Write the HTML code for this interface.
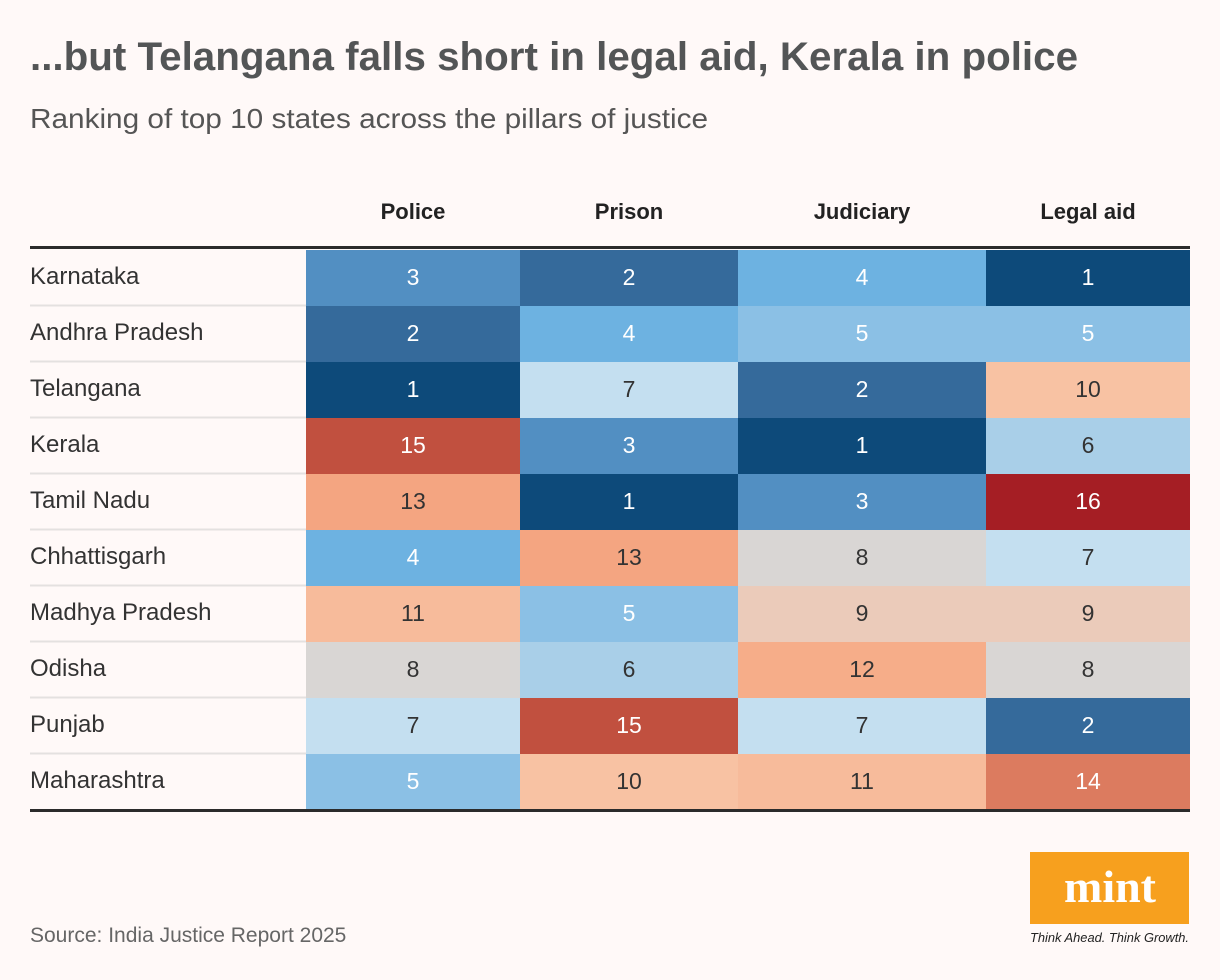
<!DOCTYPE html>
<html><head><meta charset="utf-8">
<style>
html,body{margin:0;padding:0;background:#fff9f8;}
svg{display:block;font-family:"Liberation Sans",sans-serif;}
</style></head>
<body>
<svg id="chart" width="1220" height="980" viewBox="0 0 1220 980">
<rect width="1220" height="980" fill="#fff9f8"/>
<text x="30" y="70" font-size="40" font-weight="bold" fill="#535556" textLength="1048" lengthAdjust="spacingAndGlyphs">...but Telangana falls short in legal aid, Kerala in police</text>
<text x="30" y="128" font-size="28" fill="#555" textLength="678" lengthAdjust="spacingAndGlyphs">Ranking of top 10 states across the pillars of justice</text>
<g id="grid"></g>
<line x1="30" y1="247.5" x2="1190" y2="247.5" stroke="#2b2b2b" stroke-width="3"/>
<line x1="30" y1="810.5" x2="1190" y2="810.5" stroke="#2b2b2b" stroke-width="3"/>
<text x="30" y="942" font-size="21" fill="#666">Source: India Justice Report 2025</text>
<g>
<rect x="1030" y="852" width="159" height="72" fill="#f7a01e"/>
<text x="1110" y="902" font-family="Liberation Serif,serif" font-size="46" font-weight="bold" fill="#fff" text-anchor="middle">mint</text>
<text x="1030" y="942" font-size="12.5" font-style="italic" fill="#222" textLength="159" lengthAdjust="spacingAndGlyphs">Think Ahead. Think Growth.</text>
</g>
</svg>
<script>
const states = ["Karnataka","Andhra Pradesh","Telangana","Kerala","Tamil Nadu","Chhattisgarh","Madhya Pradesh","Odisha","Punjab","Maharashtra"];
const pillars = ["Police","Prison","Judiciary","Legal aid"];
const police = [3,2,1,15,13,4,11,8,7,5];
const prison = [2,4,7,3,1,13,5,6,15,10];
const judiciary = [4,5,2,1,3,8,9,12,7,11];
const legalAid = [1,5,10,6,16,7,9,8,2,14];
const rankColors = ["#0d4a7a","#356a9b","#528fc2","#6db2e1","#8bc0e5","#a9cfe8","#c4dff0","#d9d6d4","#ebcbba","#f8c2a3","#f7bb9b","#f6ad89","#f4a581","#dc7b5f","#c1503f","#a51e24"];

const NS="http://www.w3.org/2000/svg";
const g=document.getElementById('grid');
const colX=[306,520,738,986,1190];
const top0=250, rowH=56;
const series=[police,prison,judiciary,legalAid];
function rowY(i){return top0+i*rowH;}
function el(t,a){const e=document.createElementNS(NS,t);for(const k in a)e.setAttribute(k,a[k]);g.appendChild(e);return e;}

pillars.forEach((p,j)=>{
  const t=el('text',{x:(colX[j]+colX[j+1])/2,y:219,'font-size':22,'font-weight':'bold','text-anchor':'middle',fill:'#222'});
  t.textContent=p;
  
  
});
states.forEach((s,i)=>{
  const y=rowY(i);
  if(i>0){
    const ln=el('line',{x1:30,x2:306,y1:y-0.5,y2:y-0.5,stroke:'#e4e1e0','stroke-width':2});
    
    
  }
  const t=el('text',{x:30,y:y+34,'font-size':24,fill:'#333'});
  t.textContent=s;
  
  
  series.forEach((arr,j)=>{
    const v=arr[i];
    const r=el('rect',{x:colX[j],y:y,width:colX[j+1]-colX[j],height:rowH,fill:rankColors[v-1]});
    
    
    const tv=el('text',{x:(colX[j]+colX[j+1])/2,y:y+35,'font-size':23,'text-anchor':'middle',fill:(v<=5||v>=14)?'#fff':'#333'});
    tv.textContent=v;
    
    
  });
});
</script>
</body></html>
